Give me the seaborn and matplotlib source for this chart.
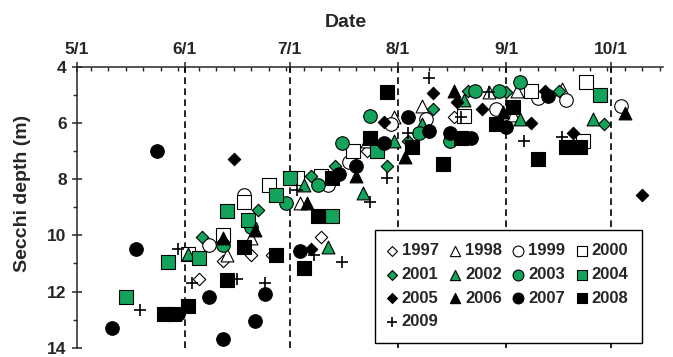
import numpy as np
import pandas as pd
import matplotlib.pyplot as plt
import matplotlib.dates as mdates
from matplotlib.ticker import FuncFormatter
import seaborn as sns

# ============================================================================
# DATA (sampling date, Secchi depth in m)
# ============================================================================
dates_1997 = ["6/5", "6/12", "6/20", "6/26", "7/10", "7/23", "8/17"]
depth_1997 = [11.55, 10.9, 10.7, 10.7, 10.05, 7.0, 5.8]

dates_1998 = ["6/13", "6/20", "7/4", "7/23", "7/31", "8/8", "8/27", "9/3", "9/4", "9/17"]
depth_1998 = [10.7, 10.1, 8.85, 6.65, 5.8, 5.4, 4.9, 5.7, 4.85, 4.8]

dates_1999 = ["6/8", "6/18", "7/12", "7/18", "7/30", "8/9", "8/29", "9/10", "9/18", "10/4"]
depth_1999 = [10.35, 8.55, 8.2, 7.4, 6.05, 5.85, 5.5, 5.1, 5.2, 5.4]

dates_2000 = ["6/2", "6/12", "6/18", "6/25", "7/3", "7/10", "7/19", "8/20", "9/8", "9/23", "9/24"]
depth_2000 = [10.65, 10.0, 8.8, 8.2, 7.95, 7.9, 7.0, 5.75, 4.85, 6.65, 4.55]

dates_2001 = ["6/6", "6/22", "7/7", "7/14", "7/29", "8/4", "8/11", "8/21", "9/1", "9/16", "9/29"]
depth_2001 = [10.05, 9.1, 7.9, 7.55, 7.55, 6.65, 5.5, 4.85, 4.9, 4.85, 6.05]

dates_2002 = ["6/2", "7/5", "7/12", "7/22", "7/31", "8/8", "8/20", "9/5", "9/26"]
depth_2002 = [10.65, 8.2, 10.4, 8.5, 6.65, 6.05, 5.2, 5.85, 5.85]

dates_2003 = ["6/12", "6/20", "6/30", "7/9", "7/16", "7/24", "8/7", "8/16", "8/23", "8/30", "9/5"]
depth_2003 = [10.35, 9.7, 8.85, 8.2, 6.7, 5.75, 6.35, 6.65, 4.85, 4.85, 4.55]

dates_2004 = ["5/15", "5/27", "6/5", "6/13", "6/19", "6/27", "7/1", "7/13", "7/26", "9/28"]
depth_2004 = [12.2, 10.95, 10.8, 9.15, 9.45, 8.55, 7.95, 9.3, 7.0, 5.0]

dates_2005 = ["6/15", "7/7", "7/28", "8/11", "8/18", "8/25", "9/8", "9/12", "9/20", "10/10"]
depth_2005 = [7.3, 10.5, 5.95, 4.95, 5.25, 5.5, 6.0, 4.85, 6.35, 8.55]

dates_2006 = ["6/12", "6/21", "7/6", "7/20", "8/3", "8/17", "8/31", "10/5"]
depth_2006 = [10.1, 9.8, 8.85, 7.9, 7.2, 4.85, 5.6, 5.65]

dates_2007 = ["5/11", "5/18", "5/24", "5/30", "6/8", "6/12", "6/21", "6/24", "7/4", "7/15",
              "7/20", "7/28", "8/4", "8/10", "8/16", "8/20", "8/22", "9/1", "9/13"]
depth_2007 = [13.3, 10.5, 7.0, 12.8, 12.2, 13.7, 13.05, 12.1, 10.55, 7.8,
              7.55, 6.7, 5.8, 6.3, 6.35, 6.55, 6.55, 6.15, 5.05]

dates_2008 = ["5/26", "5/29", "6/2", "6/13", "6/18", "6/27", "7/5", "7/9", "7/13", "7/24",
              "7/29", "8/5", "8/14", "8/19", "8/29", "9/3", "9/10", "9/18", "9/22"]
depth_2008 = [12.8, 12.8, 12.5, 11.6, 10.4, 10.7, 11.15, 9.3, 7.95, 6.55,
              4.9, 6.85, 7.45, 6.55, 6.05, 5.45, 7.3, 6.85, 6.85]

dates_2009 = ["5/19", "5/30", "6/3", "6/16", "6/24", "7/3", "7/8", "7/16", "7/24", "7/29",
              "8/4", "8/10", "8/19", "8/27", "9/6", "9/17"]
depth_2009 = [12.65, 10.5, 11.7, 11.55, 11.7, 8.4, 10.7, 10.95, 8.8, 7.95,
              6.35, 4.4, 5.8, 4.9, 6.65, 6.5]

years = [1997, 1998, 1999, 2000, 2001, 2002, 2003, 2004, 2005, 2006, 2007, 2008, 2009]
year_dates = [dates_1997, dates_1998, dates_1999, dates_2000, dates_2001, dates_2002, dates_2003,
              dates_2004, dates_2005, dates_2006, dates_2007, dates_2008, dates_2009]
year_depths = [depth_1997, depth_1998, depth_1999, depth_2000, depth_2001, depth_2002, depth_2003,
               depth_2004, depth_2005, depth_2006, depth_2007, depth_2008, depth_2009]

# ============================================================================
# STYLE
# ============================================================================
GREEN = "#13a35a"
face = {1997: "white", 1998: "white", 1999: "white", 2000: "white",
        2001: GREEN, 2002: GREEN, 2003: GREEN, 2004: GREEN,
        2005: "black", 2006: "black", 2007: "black", 2008: "black", 2009: "black"}
marker = {1997: "D", 1998: "^", 1999: "o", 2000: "s",
          2001: "D", 2002: "^", 2003: "o", 2004: "s",
          2005: "D", 2006: "^", 2007: "o", 2008: "s", 2009: "+"}
size = {"D": 40, "^": 85, "o": 95, "s": 88, "+": 85}

sns.set_style("ticks")
plt.rcParams["font.family"] = ["Liberation Sans", "DejaVu Sans"]
plt.rcParams["font.weight"] = "bold"

# put everything on one calendar year so only month/day matters
rows = []
for yr, ds, dp in zip(years, year_dates, year_depths):
    for d, v in zip(ds, dp):
        rows.append({"year": yr, "date": pd.to_datetime(f"2001/{d}", format="%Y/%m/%d"), "depth": v})
df = pd.DataFrame(rows)

fig = plt.figure(figsize=(6.73, 3.57), dpi=100)
ax = fig.add_axes([0.114, 0.026, 0.8716, 0.787])

# dashed month lines
for m in [6, 7, 8, 9, 10]:
    ax.axvline(pd.Timestamp(2001, m, 1), color="black", lw=1.2,
               linestyle=(0, (4, 2.6)), zorder=1)

for yr in years:
    sub = df[df["year"] == yr]
    mk = marker[yr]
    if mk == "+":
        sns.scatterplot(data=sub, x="date", y="depth", marker="+", color="black",
                        s=size[mk], linewidth=1.2, ax=ax, label=str(yr), zorder=3)
    else:
        sns.scatterplot(data=sub, x="date", y="depth", marker=mk, color=face[yr],
                        edgecolor="black", linewidth=0.8, s=size[mk], ax=ax,
                        label=str(yr), zorder=3)

# ============================================================================
# AXES
# ============================================================================
ax.set_xlim(pd.Timestamp(2001, 5, 1), pd.Timestamp(2001, 10, 16))
ax.set_ylim(14, 4)
ax.set_yticks([4, 6, 8, 10, 12, 14])
ax.set_yticks([5, 7, 9, 11, 13], minor=True)

ax.xaxis.set_major_locator(mdates.MonthLocator())
ax.xaxis.set_minor_locator(mdates.DayLocator(bymonthday=[5, 10, 15, 20, 25, 30]))
ax.xaxis.set_major_formatter(FuncFormatter(
    lambda x, pos: f"{mdates.num2date(x).month}/{mdates.num2date(x).day}"))

ax.xaxis.tick_top()
ax.xaxis.set_label_position("top")
for s in ["bottom", "right"]:
    ax.spines[s].set_visible(False)
for s in ["top", "left"]:
    ax.spines[s].set_linewidth(1.1)

ax.tick_params(axis="x", which="major", direction="inout", length=7.5, width=1.1,
               labelsize=12.5, pad=3.5)
ax.tick_params(axis="x", which="minor", direction="in", length=3, width=1.0)
ax.tick_params(axis="y", which="major", direction="inout", length=6.5, width=1.1,
               labelsize=12.5, pad=4)
ax.tick_params(axis="y", which="minor", direction="out", length=3, width=1.0)
for lab in ax.get_xticklabels() + ax.get_yticklabels():
    lab.set_fontweight("bold")

ax.set_xlabel("Date", fontsize=14, fontweight="bold")
ax.xaxis.set_label_coords(0.459, 1.14)
ax.set_ylabel("Secchi depth (m)", fontsize=14, fontweight="bold")
ax.yaxis.set_label_coords(-0.078, 0.55)

# legend, filled row by row (4 per row)
handles, labels = ax.get_legend_handles_labels()
order = [0, 4, 8, 12, 1, 5, 9, 2, 6, 10, 3, 7, 11]
leg = ax.legend([handles[i] for i in order], [labels[i] for i in order],
                ncol=4, loc="upper left", bbox_to_anchor=(0.5085, 0.419),
                borderaxespad=0, markerscale=0.8,
                handlelength=0.4, handletextpad=0.4, columnspacing=0.78,
                labelspacing=0.52, borderpad=0.8, fancybox=False, framealpha=1,
                edgecolor="black", prop={"weight": "bold", "size": 12})
leg.get_frame().set_linewidth(1.0)

plt.savefig("out.png", dpi=100)
plt.close()
